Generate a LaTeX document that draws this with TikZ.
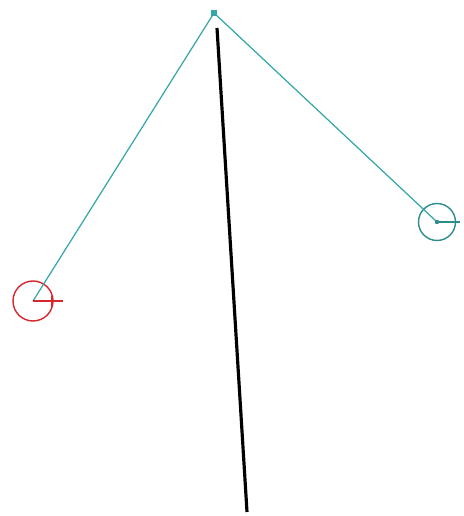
\documentclass[tikz,border=0pt]{standalone}
\usepackage{tikz}
\usepackage{xcolor}
\usetikzlibrary{positioning, calc}
\definecolor{cRod}{HTML}{35A7A7}
\definecolor{cBobR}{HTML}{2E8C8C}
\definecolor{cBobL}{HTML}{D8262E}
\tikzset{
  pivot/.style   ={draw=cRod, fill=cRod, rectangle, minimum size=0.09cm,
                   inner sep=0pt},
  rod/.style     ={draw=cRod, line width=0.7pt},
  bobleft/.style ={draw=cBobL, circle, line width=0.8pt,
                   minimum size=0.8cm, inner sep=0pt},
  bobright/.style={draw=cBobR, circle, line width=0.8pt,
                   minimum size=0.74cm, inner sep=0pt},
  shaft/.style   ={draw=black, line width=1.8pt},
}

\begin{document}
\begin{tikzpicture}[x=0.02cm, y=-0.02cm]

  \useasboundingbox (0,0) rectangle (463,516);

  % ============================================================
  % PIVOT AND BOBS
  % ============================================================
  \node[pivot]    (top)   at (214,13)  {};
  \node[bobleft]  (bobL)  at (33,301)  {};
  \node[bobright] (bobR)  at (437,222) {};

  % --- rods ---
  \draw[rod] (top.center) -- (bobL.center);
  \draw[rod] (top.center) -- (bobR.center);

  % --- bob markers ---
  \coordinate (markL) at (63,301);
  \coordinate (tickLa) at (52,296);
  \coordinate (tickLb) at (52,307);
  \draw[draw=cBobL, line width=0.7pt] (bobL.center) -- (markL);
  \draw[draw=cBobL, line width=0.7pt] (tickLa) -- (tickLb);

  \coordinate (markR) at (460,222);
  \draw[draw=cBobR, line width=1.3pt] (bobR.center) -- (markR);
  \fill[cBobR] (bobR.center) circle (2.2);

  % ============================================================
  % SHAFT
  % ============================================================
  \coordinate (shaftA) at (217,28);
  \coordinate (shaftB) at (247,512);
  \draw[shaft] (shaftA) -- (shaftB);

\end{tikzpicture}
\end{document}
